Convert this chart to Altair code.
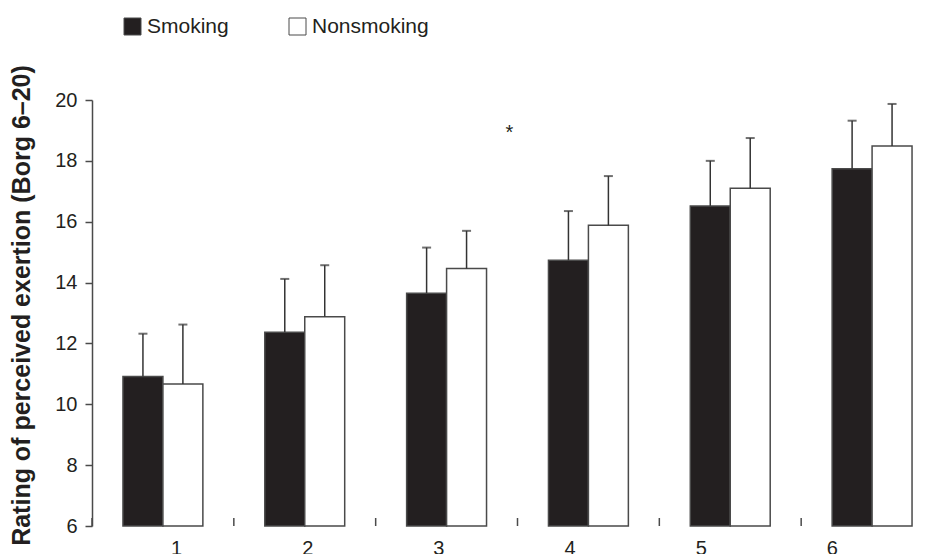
import altair as alt
import pandas as pd

groups = ["1", "2", "3", "4", "5", "6"]
series = ["Smoking", "Nonsmoking"]
smoking_mean = [10.91, 12.37, 13.65, 14.73, 16.52, 17.74]
smoking_sd = [1.41, 1.75, 1.50, 1.62, 1.48, 1.58]
nonsmoking_mean = [10.67, 12.88, 14.46, 15.88, 17.10, 18.49]
nonsmoking_sd = [1.95, 1.69, 1.24, 1.62, 1.65, 1.38]
y_ticks = [6, 8, 10, 12, 14, 16, 18, 20]
star_group = ["4"]
star_value = [19.05]
y_title = "Rating of perceived exertion (Borg 6\u201320)"

rows = []
for i, g in enumerate(groups):
    rows.append(dict(group=g, series="Smoking", mean=smoking_mean[i],
                     upper=smoking_mean[i] + smoking_sd[i]))
    rows.append(dict(group=g, series="Nonsmoking", mean=nonsmoking_mean[i],
                     upper=nonsmoking_mean[i] + nonsmoking_sd[i]))
df = pd.DataFrame(rows)
df_groups = pd.DataFrame({"group": groups})
df_star = pd.DataFrame({"group": star_group, "v": star_value})

W, H = 851, 426
INK = "#231f20"
LINE = "#4a4a4a"

x_scale = alt.Scale(domain=groups, paddingInner=0, paddingOuter=0)
xoff = alt.XOffset("series:N", sort=series,
                   scale=alt.Scale(domain=series, paddingInner=0, paddingOuter=0.775))
y_scale = alt.Scale(domain=[6, 20], nice=False, zero=False)

bars = alt.Chart(df).mark_bar(stroke=LINE, strokeWidth=1.5).encode(
    x=alt.X("group:N", sort=groups, scale=x_scale,
            axis=alt.Axis(labels=False, ticks=False, domain=True, domainColor=LINE,
                          domainWidth=1.5, title=None, grid=False)),
    xOffset=xoff,
    y=alt.Y("mean:Q", scale=y_scale,
            axis=alt.Axis(values=y_ticks, title=y_title, grid=False,
                          titleFontSize=25, titleFontWeight="bold", titleColor=INK,
                          titleX=-71, titleY=205, titleBaseline="middle",
                          titleAngle=270, titleAlign="center",
                          labelFontSize=20, labelColor=INK, labelPadding=8,
                          tickSize=7, tickColor=LINE, tickWidth=1.5,
                          domainColor=LINE, domainWidth=1.5)),
    y2=alt.datum(6),
    fill=alt.Fill("series:N", sort=series,
                  scale=alt.Scale(domain=series, range=[INK, "#ffffff"]),
                  legend=alt.Legend(title=None, orient="none", legendX=30, legendY=-84,
                                    direction="horizontal", symbolType="square",
                                    symbolSize=289, symbolStrokeColor=LINE,
                                    symbolStrokeWidth=1, labelFontSize=21,
                                    labelOffset=4, columnPadding=58, labelColor=INK,
                                    padding=0)),
)

err = alt.Chart(df).mark_rule(color="#333333", strokeWidth=1.5).encode(
    x=alt.X("group:N", sort=groups, scale=x_scale, axis=None),
    xOffset=xoff,
    y=alt.Y("mean:Q", scale=y_scale),
    y2="upper:Q",
)

caps = alt.Chart(df).mark_tick(color="#333333", thickness=2, size=9).encode(
    x=alt.X("group:N", sort=groups, scale=x_scale, axis=None),
    xOffset=xoff,
    y=alt.Y("upper:Q", scale=y_scale),
)

xticks = alt.Chart(df_groups).mark_rule(color=LINE, strokeWidth=1.5).encode(
    x=alt.X("group:N", sort=groups, scale=x_scale, axis=None, bandPosition=0),
    y=alt.value(H),
    y2=alt.value(H - 8),
)

star = alt.Chart(df_star).mark_text(text="*", fontSize=20, color=INK, dx=-8, dy=4,
                                     baseline="middle").encode(
    x=alt.X("group:N", sort=groups, scale=x_scale, axis=None, bandPosition=0),
    y=alt.Y("v:Q", scale=y_scale),
)

main = alt.layer(bars, err, caps, xticks, star)

labels = alt.Chart(df_groups).mark_text(fontSize=20, color=INK, baseline="middle").encode(
    x=alt.X("group:N", sort=groups,
            scale=alt.Scale(domain=groups, range=[19, 806], paddingInner=0, paddingOuter=0),
            axis=None),
    y=alt.value(H + 23),
    text="group:N",
)

chart = alt.layer(main, labels).resolve_scale(x="independent").properties(
    width=W, height=H,
    autosize=alt.AutoSizeParams(type="none"),
    padding={"left": 84, "top": 92, "right": -16, "bottom": 28},
).configure(font="Liberation Sans").configure_view(stroke=None)

chart.save("out.html", embed_options={"renderer": "svg", "actions": False})
